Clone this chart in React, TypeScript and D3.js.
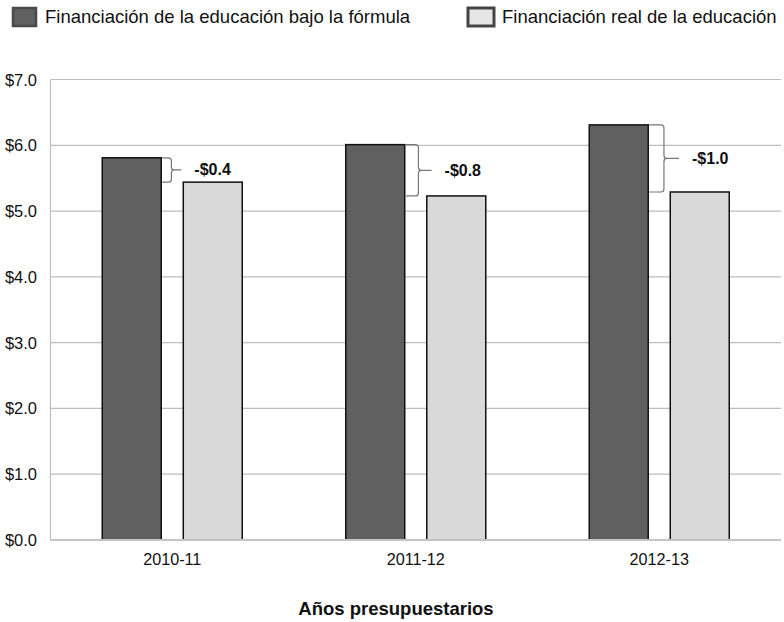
import * as d3 from 'd3';

const categories = ['2010-11', '2011-12', '2012-13'];
const seriesNames = [
  'Financiación de la educación bajo la fórmula',
  'Financiación real de la educación',
];
const formulaValues = [5.81, 6.01, 6.31];
const realValues = [5.44, 5.23, 5.29];
const gapLabels = ['-$0.4', '-$0.8', '-$1.0'];
const yTicks = [0, 1, 2, 3, 4, 5, 6, 7];
const xTitle = 'Años presupuestarios';

const width = 784;
const height = 622;
const margin = { top: 79.5, right: 3, bottom: 82, left: 50.5 };
const font = '"Liberation Sans", Arial, sans-serif';
const barFills = ['#606060', '#d9d9d9'];

export default function App() {
  const x = d3
    .scaleBand<string>()
    .domain(categories)
    .range([margin.left, width - margin.right]);
  const x1 = d3
    .scaleBand<string>()
    .domain(seriesNames)
    .range([-70, 70])
    .paddingInner(0.272);
  const y = d3
    .scaleLinear()
    .domain([0, 7])
    .range([height - margin.bottom, margin.top]);

  const series = [formulaValues, realValues];
  const plotRight = width - margin.right;

  // curly brace from the top of the formula bar to the top of the real bar
  const braceGeom = (xs: number, y0: number, y1: number) => {
    const h = y1 - y0;
    const vx = xs + 6 + 0.13 * h;
    const px = vx + 7 + 0.12 * h;
    return { vx, px, tx: px + 13 };
  };

  const bracePath = (xs: number, y0: number, y1: number) => {
    const { vx, px } = braceGeom(xs, y0, y1);
    const mid = (y0 + y1) / 2;
    const r = 3;
    return [
      `M${xs},${y0}`,
      `L${vx - r},${y0}`,
      `Q${vx},${y0} ${vx},${y0 + r}`,
      `L${vx},${mid - r}`,
      `Q${vx},${mid} ${vx + r},${mid}`,
      `L${px},${mid}`,
      `M${vx + r},${mid}`,
      `Q${vx},${mid} ${vx},${mid + r}`,
      `L${vx},${y1 - r}`,
      `Q${vx},${y1} ${vx - r},${y1}`,
      `L${xs},${y1}`,
    ].join(' ');
  };

  return (
    <svg
      width={width}
      height={height}
      style={{ position: 'absolute', left: 0, top: 0, background: '#fff' }}
      fontFamily={font}
    >
      {/* legend */}
      <rect x={13} y={8} width={23} height={18} fill={barFills[0]} stroke="#4a4a4a" strokeWidth={2.5} />
      <text x={45} y={23} fontSize={18.5} fill="#111">
        {seriesNames[0]}
      </text>
      <rect x={468} y={8} width={26} height={18} fill="#e6e6e6" stroke="#444" strokeWidth={3} />
      <text x={502} y={23} fontSize={18.5} fill="#111">
        {seriesNames[1]}
      </text>

      {/* grid + y labels */}
      {yTicks.map((t) => (
        <g key={t}>
          {t > 0 && (
            <line x1={margin.left} x2={plotRight} y1={y(t)} y2={y(t)} stroke="#bdbdbd" strokeWidth={1.2} />
          )}
          <text x={37} y={y(t) + 6} fontSize={16.5} textAnchor="end" fill="#111">
            {`$${t.toFixed(1)}`}
          </text>
        </g>
      ))}
      <line x1={margin.left} x2={margin.left} y1={y(7)} y2={y(0)} stroke="#bdbdbd" strokeWidth={1.2} />

      {/* bars */}
      {categories.map((c, i) => (
        <g key={c} transform={`translate(${x(c)! + x.bandwidth() / 2},0)`}>
          {seriesNames.map((s, j) => (
            <rect
              key={s}
              x={x1(s)}
              y={y(series[j][i])}
              width={x1.bandwidth()}
              height={y(0) - y(series[j][i])}
              fill={barFills[j]}
              stroke="#111"
              strokeWidth={1.5}
            />
          ))}
        </g>
      ))}

      <line x1={margin.left} x2={plotRight} y1={y(0)} y2={y(0)} stroke="#c4c4c4" strokeWidth={2} />

      {/* gap braces */}
      {categories.map((c, i) => {
        const xs = x(c)! + x.bandwidth() / 2 + x1(seriesNames[0])! + x1.bandwidth() + 1;
        const y0 = y(formulaValues[i]);
        const y1 = y(realValues[i]);
        const { tx } = braceGeom(xs, y0, y1);
        return (
          <g key={c}>
            <path d={bracePath(xs, y0, y1)} fill="none" stroke="#777" strokeWidth={1.2} />
            <text x={tx} y={(y0 + y1) / 2 + 5.5} fontSize={16} fontWeight="bold" fill="#111">
              {gapLabels[i]}
            </text>
          </g>
        );
      })}

      {/* x labels */}
      {categories.map((c) => (
        <text key={c} x={x(c)! + x.bandwidth() / 2} y={565} fontSize={16.2} textAnchor="middle" fill="#111">
          {c}
        </text>
      ))}
      <text x={396} y={615} fontSize={18.5} fontWeight="bold" textAnchor="middle" fill="#111">
        {xTitle}
      </text>
    </svg>
  );
}
